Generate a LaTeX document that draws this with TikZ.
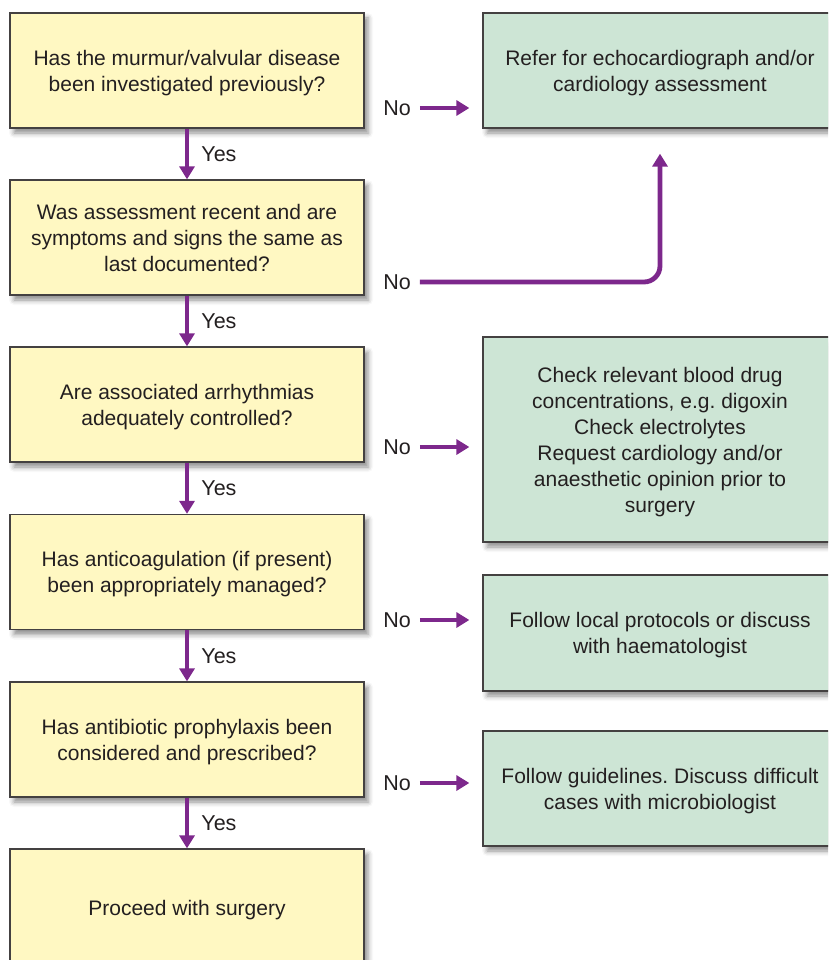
\documentclass[tikz,border=0pt]{standalone}
\usepackage{fontspec}
\setmainfont{Liberation Sans}
\usetikzlibrary{arrows.meta,shadows.blur}
\frenchspacing
\definecolor{boxyellow}{RGB}{255,248,194}
\definecolor{boxgreen}{RGB}{205,229,213}
\definecolor{flowpurple}{RGB}{125,40,140}
\definecolor{inkgray}{RGB}{35,31,32}
\begin{document}
\begin{tikzpicture}[x=1pt,y=-1pt,
  qbox/.style={draw=inkgray!85, line width=1.3pt, fill=boxyellow,
    minimum width=354pt, minimum height=115pt, inner sep=2pt,
    align=center, text=inkgray, font=\fontsize{21}{26}\selectfont,
    text depth=0pt,
    blur shadow={shadow xshift=4pt, shadow yshift=-5pt,
      shadow blur radius=5pt, shadow opacity=45}},
  abox/.style={qbox, fill=boxgreen},
  lab/.style={text=inkgray, font=\fontsize{21.5}{26}\selectfont, inner sep=0pt},
  flow/.style={draw=flowpurple, line width=4.8pt,
    -{Triangle[length=13pt,width=15pt]}},
]
\clip (0,0) rectangle (828,960);

% question column
\node[qbox] (q1) at (187,70.5) {Has the murmur/valvular disease\\been investigated previously?};
\node[qbox] (q2) at (187,237.5) {Was assessment recent and are\\symptoms and signs the same as\\last documented?};
\node[qbox] (q3) at (187,404.5) {Are associated arrhythmias\\adequately controlled?};
\node[qbox] (q4) at (187,572) {Has anticoagulation (if present)\\been appropriately managed?};
\node[qbox] (q5) at (187,739.5) {Has antibiotic prophylaxis been\\considered and prescribed?};
\node[qbox, minimum height=117pt] (q6) at (187,907.5) {Proceed with surgery};

% action column
\node[abox] (r1) at (660,70.5) {Refer for echocardiograph and/or\\cardiology assessment};
\node[abox, minimum height=205pt] (r2) at (660,439.5) {Check relevant blood drug\\concentrations, e.g. digoxin\\Check electrolytes\\Request cardiology and/or\\anaesthetic opinion prior to\\surgery};
\node[abox, minimum height=116pt] (r3) at (660,633) {Follow local protocols or discuss\\with haematologist};
\node[abox] (r4) at (660,788.5) {Follow guidelines. Discuss difficult\\cases with microbiologist};

% yes branches
\foreach \a/\b/\n in {q1/q2/y1, q2/q3/y2, q3/q4/y3, q4/q5/y4, q5/q6/y5}
  \draw[flow] (\a.south) -- node[lab, anchor=west, xshift=12pt] (\n) {Yes} (\b.north);

% no branches
\node[lab] (n1) at (397,108) {No};
\node[lab] (n2) at (397,282) {No};
\node[lab] (n3) at (397,447) {No};
\node[lab] (n4) at (397,620) {No};
\node[lab] (n5) at (397,783) {No};

\draw[flow, shorten <=9pt, shorten >=13pt] (n1.east) -- (n1.east -| r1.west);
\draw[flow, shorten <=9pt, shorten >=25pt, rounded corners=16pt] (n2.east) -| (r1.south);
\draw[flow, shorten <=9pt, shorten >=13pt] (n3.east) -- (n3.east -| r2.west);
\draw[flow, shorten <=9pt, shorten >=13pt] (n4.east) -- (n4.east -| r3.west);
\draw[flow, shorten <=9pt, shorten >=13pt] (n5.east) -- (n5.east -| r4.west);
\end{tikzpicture}
\end{document}
